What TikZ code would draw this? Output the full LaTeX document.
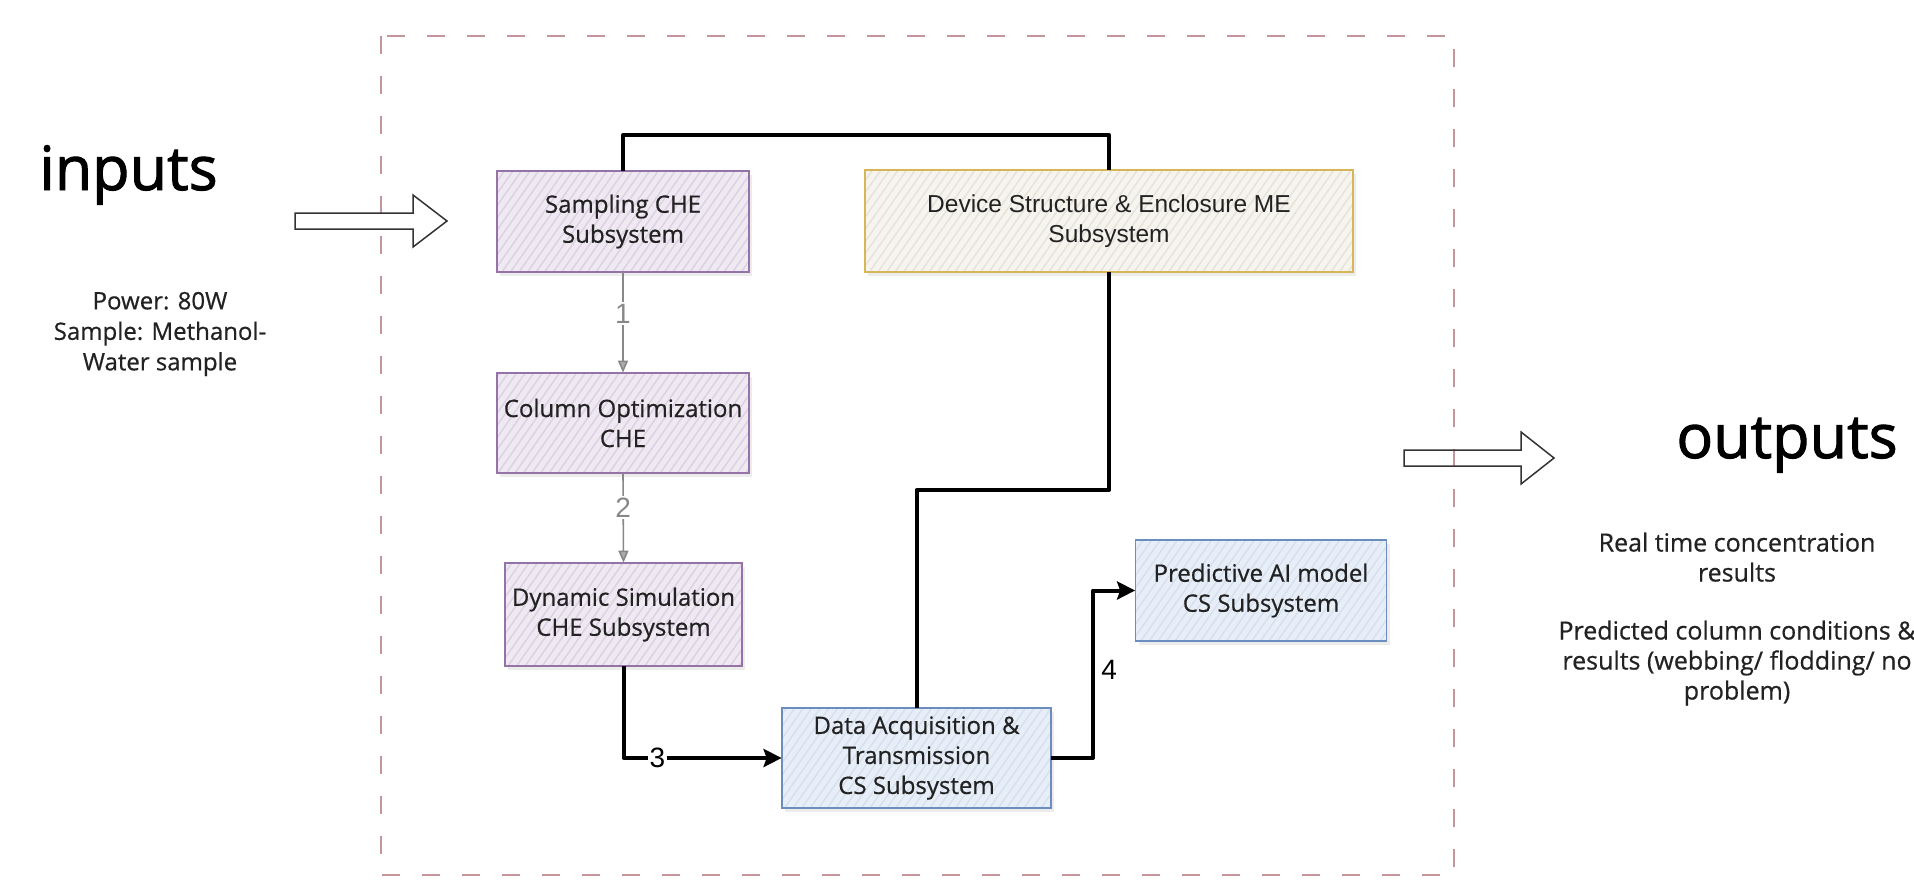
\documentclass[tikz,border=0pt]{standalone}
\usepackage{fontspec}
\setmainfont{Open Sans}[RawFeature={embolden=0.6}]
\newfontfamily\titlef{Open Sans}[RawFeature={embolden=1.6}]
\newfontfamily\arialf{Liberation Sans}
\usetikzlibrary{arrows.meta,patterns.meta,shadows,calc}
\definecolor{purpleLine}{HTML}{9673A6}
\definecolor{purpleFill}{HTML}{EFE9F2}
\definecolor{purpleHatch}{HTML}{DDD0E4}
\definecolor{goldLine}{HTML}{D6B656}
\definecolor{goldFill}{HTML}{F6F4EF}
\definecolor{goldHatch}{HTML}{E7E2D8}
\definecolor{blueLine}{HTML}{6C8EBF}
\definecolor{blueFill}{HTML}{E7EEF7}
\definecolor{blueHatch}{HTML}{D5E0EF}
\definecolor{frameRed}{HTML}{C4969B}
\definecolor{txt}{HTML}{222222}
\definecolor{labgray}{HTML}{888888}
\begin{document}
\begin{tikzpicture}[x=0.5pt,y=-0.5pt,
  box/.style={inner sep=2pt, align=center, text=txt,
    font=\fontsize{12}{15}\selectfont,
    drop shadow={shadow xshift=1.5pt, shadow yshift=-2pt, opacity=0.15}},
  chebox/.style={box, fill=purpleFill,
    postaction={pattern color=purpleHatch, pattern={Lines[angle=55,distance=3.5pt,line width=0.7pt]}},
    postaction={draw=purpleLine, line width=0.9pt}},
  mebox/.style={box, fill=goldFill,
    postaction={pattern color=goldHatch, pattern={Lines[angle=55,distance=3.5pt,line width=0.7pt]}},
    postaction={draw=goldLine, line width=0.9pt}},
  csbox/.style={box, fill=blueFill,
    postaction={pattern color=blueHatch, pattern={Lines[angle=55,distance=3.5pt,line width=0.7pt]}},
    postaction={draw=blueLine, line width=0.9pt}},
  thickconn/.style={draw=black, line width=2pt, line join=round},
  grayarrow/.style={draw=labgray, line width=0.8pt, -{Triangle[length=6pt,width=5pt,fill=labgray!70]}},
  blackarrow/.style={thickconn, -{Stealth[length=9pt,width=9pt,inset=1.5pt]}},
  lab/.style={font=\arialf\fontsize{14}{14}\selectfont, fill=white, inner sep=1pt},
  blockarrow/.style={draw=black!80, line width=0.75pt, line join=miter},
  bigtitle/.style={font=\titlef\fontsize{30.5}{36}\selectfont, text=black, anchor=base, inner sep=0pt},
  sidetext/.style={align=center, text=txt, inner sep=0pt}
]
\useasboundingbox (0,0) rectangle (1914,879);
\clip (0,0) rectangle (1914,879);

% dashed frame
\draw[frameRed, line width=0.75pt, dash pattern=on 9pt off 11pt] (381,36) rectangle (1454,875);

% block arrows
\draw[blockarrow] (295,213) -- (413,213) -- (413,195) -- (447,221) -- (413,247) -- (413,229) -- (295,229) -- cycle;
\draw[blockarrow] (1404,450) -- (1521,450) -- (1521,432) -- (1554,458) -- (1521,484) -- (1521,466) -- (1404,466) -- cycle;

% titles and side texts
\node[bigtitle] (inputs) at (128.5,190) {inputs};
\node[bigtitle] (outputs) at (1787,458) {outputs};
\node[sidetext, font=\fontsize{12}{15.25}\selectfont] (intext) at (160,334) {Power: 80W\\Sample: Methanol-\\Water sample};
\node[sidetext, font=\fontsize{12.5}{15}\selectfont] (outtext) at (1737,619) {Real time concentration\\results\\[14pt]Predicted column conditions \&\\results (webbing/ flodding/ no\\problem)};

% boxes
\node[chebox, minimum width=126pt, minimum height=50.5pt] (samp) at (623,221.5) {Sampling CHE\\Subsystem};
\node[mebox, minimum width=244pt, minimum height=51pt, font=\arialf\fontsize{12.25}{15}\selectfont] (dev) at (1109,221) {Device Structure \& Enclosure ME\\Subsystem};
\node[chebox, minimum width=126pt, minimum height=50pt] (col) at (623,423) {Column Optimization\\CHE};
\node[chebox, minimum width=118.5pt, minimum height=51.5pt] (dyn) at (623.5,614.5) {Dynamic Simulation\\CHE Subsystem};
\node[csbox, minimum width=134.5pt, minimum height=50pt] (data) at (916.5,758) {Data Acquisition \&\\Transmission\\CS Subsystem};
\node[csbox, minimum width=125.5pt, minimum height=50.5pt] (pred) at (1261,590.5) {Predictive AI model\\CS Subsystem};

% helper coordinates
\coordinate (topy) at (0,135);
\coordinate (midy) at (0,490);
\coordinate (x4) at (1093,0);

% connectors
\draw[thickconn] (samp.north) -- (samp.north |- topy) -| (dev.north);
\draw[thickconn] (dev.south) -- (dev.south |- midy) -| (data.north);
\draw[grayarrow] (samp.south) -- node[lab, text=labgray, pos=0.41] (l1) {1} (col.north);
\draw[grayarrow] (col.south) -- node[lab, text=labgray, pos=0.38] (l2) {2} (dyn.north);
\draw[blackarrow] (dyn.south) |- node[lab, text=black, pos=0.607] (l3) {3} (data.west);
\draw[blackarrow] (data.east) -- (x4 |- data.east) |- (pred.west);
\node[lab, text=black, fill=none, anchor=west] (l4) at (1099,670) {4};
\end{tikzpicture}
\end{document}
